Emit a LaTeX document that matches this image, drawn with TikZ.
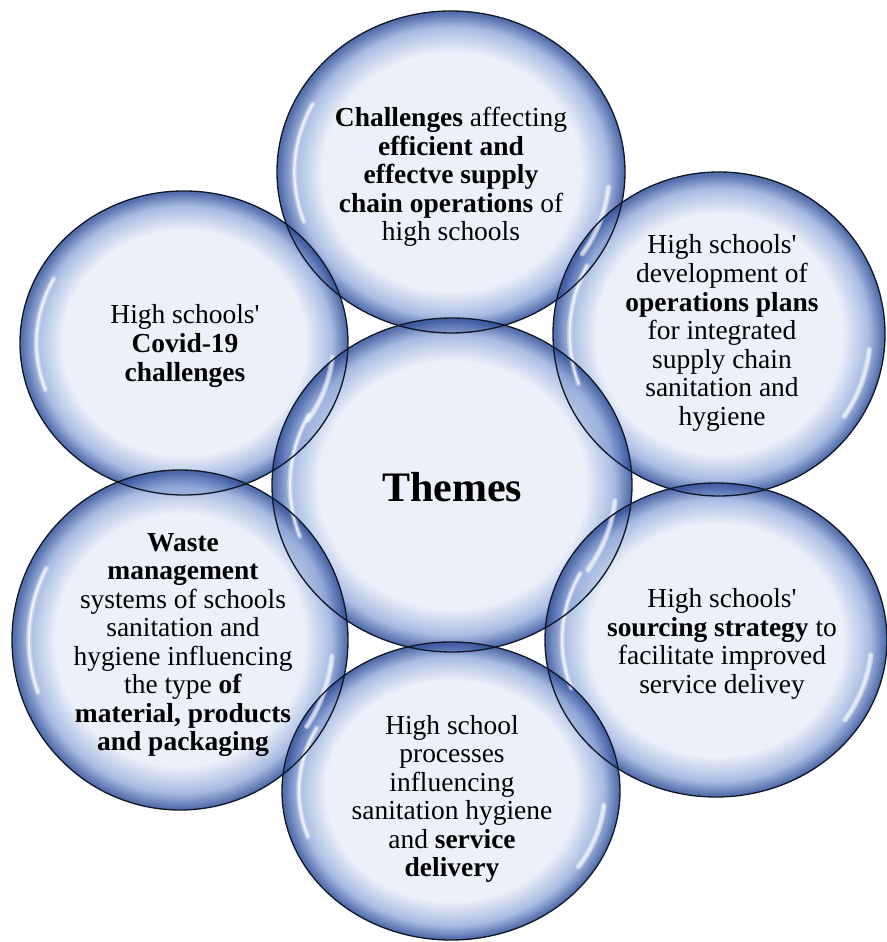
\documentclass[tikz,border=0pt]{standalone}
\usepackage{fontspec}
\setmainfont{Liberation Serif}[Ligatures=TeXOff,
  UprightFont=*, BoldFont=* Bold, ItalicFont=* Italic, BoldItalicFont=* Bold Italic]
\usetikzlibrary{shapes.geometric}

% bubble colours
\definecolor{bubin}{HTML}{E8EEF8}
\definecolor{bubmid}{HTML}{98AEDD}
\definecolor{bubedge}{HTML}{36549E}
\definecolor{rimline}{HTML}{101828}

% soft glassy radial fill: pale core, blue rim
\pgfdeclareradialshading{bubble}{\pgfpoint{0bp}{0bp}}{%
  color(0bp)=(bubin); color(18.5bp)=(bubin); color(22.5bp)=(bubmid);
  color(24.7bp)=(bubedge); color(25bp)=(bubedge); color(50bp)=(bubedge)}

\tikzset{
  bubblefill/.style={ellipse, inner sep=0pt, outer sep=0pt,
    shading=bubble, fill opacity=0.84},
  bubblerim/.style={ellipse, inner sep=0pt, outer sep=0pt,
    draw=rimline, line width=1pt},
  glosswide/.style={white, line width=4pt, line cap=round, opacity=0.35},
  glossthin/.style={white, line width=1.5pt, line cap=round, opacity=0.75},
  bodytext/.style={align=center, inner sep=0pt,
    font=\fontsize{20.6}{21.4}\selectfont},
  titletext/.style={align=center, inner sep=0pt,
    font=\fontsize{31.5}{34}\selectfont\bfseries},
}

\begin{document}
\begin{tikzpicture}[x=0.75pt, y=0.75pt]
\useasboundingbox (0,0) rectangle (887,942);

% name / centre x / centre y / x radius / y radius
\def\bubbles{top/451/770/174/161, ul/184/599/164/152, ur/719/608/166/162,
  hub/452/457/180/167, ll/180/302/168/170, lr/716/302/171/157,
  bot/451/151/169/149}

% shaded bodies
\foreach \n/\x/\y/\rx/\ry in \bubbles {
  \node[bubblefill, minimum width={1.5*\rx pt}, minimum height={1.5*\ry pt}]
    (\n) at (\x,\y) {};
}

% glossy highlights near the left and right rims
\foreach \n/\x/\y/\rx/\ry in \bubbles {
  \foreach \g in {glosswide, glossthin} {
    \draw[\g] (\n.center) ++(152:{0.9*\rx} and {0.9*\ry})
      arc[start angle=152, end angle=200, x radius={0.9*\rx}, y radius={0.9*\ry}];
    \draw[\g, opacity=0.5] (\n.center) ++(-34:{0.91*\rx} and {0.91*\ry})
      arc[start angle=-34, end angle=-6, x radius={0.91*\rx}, y radius={0.91*\ry}];
  }
}

% outlines on top of every body
\foreach \n/\x/\y/\rx/\ry in \bubbles {
  \node[bubblerim, minimum width={1.5*\rx pt}, minimum height={1.5*\ry pt}]
    (\n-rim) at (\n.center) {};
}

% labels
\node[bodytext] (ttop) at (451,765)
  {\textbf{Challenges} affecting\\ \textbf{efficient and}\\ \textbf{effectve supply}\\
   \textbf{chain operations} of\\ high schools};
\node[bodytext] (tul) at (185,596)
  {High schools'\\ \textbf{Covid-19}\\ \textbf{challenges}};
\node[bodytext] (tur) at (722,609)
  {High schools'\\ development of\\ \textbf{operations plans}\\ for integrated\\
   supply chain\\ sanitation and\\ hygiene};
\node[titletext] (thub) at (452,455) {Themes};
\node[bodytext] (tll) at (183,297)
  {\textbf{Waste}\\ \textbf{management}\\ systems of schools\\ sanitation and\\
   hygiene influencing\\ the type \textbf{of}\\ \textbf{material, products}\\
   \textbf{and packaging}};
\node[bodytext] (tlr) at (722,298)
  {High schools'\\ \textbf{sourcing strategy} to\\ facilitate improved\\ service delivey};
\node[bodytext] (tbot) at (452,143)
  {High school\\ processes\\ influencing\\ sanitation hygiene\\ and \textbf{service}\\
   \textbf{delivery}};
\end{tikzpicture}
\end{document}
